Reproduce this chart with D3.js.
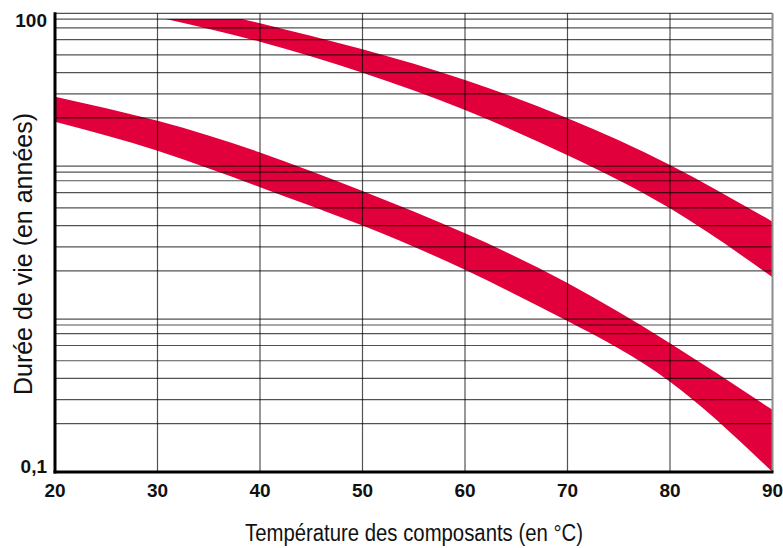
<!DOCTYPE html>
<html>
<head>
<meta charset="utf-8">
<script src="https://cdn.jsdelivr.net/npm/d3@7"></script>
<style>
  body { margin: 0; background: #fff; }
  svg { display: block; }
  .tick-label { font-family: "Liberation Sans", Arial, sans-serif; font-weight: bold; font-size: 19px; fill: #111; }
  .title { font-family: "Liberation Sans", Arial, sans-serif; fill: #111; }
</style>
</head>
<body>
<div id="chart"></div>
<script>
// temperatures (°C) on the x axis
var xTicks = [20, 30, 40, 50, 60, 70, 80, 90];

// lower band (years), read at each 10 °C
var lowerTemps  = [20, 30, 40, 50, 60, 70, 80, 90];
var lowerTop    = [28.5, 19.8, 12.3, 6.88, 3.64, 1.72, 0.695, 0.255];
var lowerBottom = [19.5, 12.6, 7.28, 4.09, 2.10, 0.97, 0.390, 0.1];

// upper band, starts around 31 °C and is cut flat near the top
var upperTemps  = [30.8, 40, 50, 60, 70, 80, 90];
var upperTop    = [121, 86.0, 58.1, 36.6, 20.6, 10.2, 4.34];
var upperBottom = [91.8, 65.2, 40.9, 23.3, 11.8, 5.30, 1.88];
var upperCap = 91.8;

// horizontal grid: decades plus the (uneven) lines drawn inside each decade
var decades = [0.1, 1, 10, 100];
var minorSteps = [2.07, 2.97, 4.09, 5.34, 6.72, 8.03, 9.15];

var yLabels = [{v: 100, t: "100"}, {v: 0.1, t: "0,1"}];

var W = 783, H = 548;

var x = d3.scaleLinear().domain([20, 90]).range([55, 772.5]);
var y = d3.scaleLog().domain([0.1, 100]).range([472, 13.3]);

var svg = d3.select("#chart").append("svg")
    .attr("width", W)
    .attr("height", H);

var defs = svg.append("defs");
defs.append("clipPath").attr("id", "plotClip")
  .append("rect")
    .attr("x", x(20)).attr("y", y(100))
    .attr("width", x(90) - x(20)).attr("height", y(0.1) - y(100));
defs.append("clipPath").attr("id", "capClip")
  .append("rect")
    .attr("x", x(20)).attr("y", y(upperCap))
    .attr("width", x(90) - x(20)).attr("height", y(0.1) - y(upperCap));

var red = "#e2003c";

function band(temps, top, bottom) {
    var pts = temps.map(function(t, i){ return {t: t, a: top[i], b: bottom[i]}; });
    return d3.area()
        .x(function(d){ return x(d.t); })
        .y0(function(d){ return y(d.b); })
        .y1(function(d){ return y(d.a); })
        .curve(d3.curveNatural)(pts);
}

svg.append("path")
    .attr("d", band(lowerTemps, lowerTop, lowerBottom))
    .attr("fill", red)
    .attr("clip-path", "url(#plotClip)");

svg.append("path")
    .attr("d", band(upperTemps, upperTop, upperBottom))
    .attr("fill", red)
    .attr("clip-path", "url(#capClip)");

// horizontal grid lines
var hLines = [];
decades.forEach(function(d){
    if (d > 0.1) hLines.push(d);
    if (d < 100) minorSteps.forEach(function(m){ hLines.push(d * m); });
});

svg.append("g").selectAll("line")
    .data(hLines)
    .enter().append("line")
    .attr("x1", x(20)).attr("x2", x(90))
    .attr("y1", function(d){ return y(d); })
    .attr("y2", function(d){ return y(d); })
    .attr("stroke", "#000")
    .attr("stroke-opacity", 0.68)
    .attr("stroke-width", 1.2);

// vertical grid lines
svg.append("g").selectAll("line")
    .data(xTicks.slice(1, -1))
    .enter().append("line")
    .attr("x1", function(d){ return x(d); })
    .attr("x2", function(d){ return x(d); })
    .attr("y1", y(100)).attr("y2", y(0.1))
    .attr("stroke", "#000")
    .attr("stroke-opacity", 0.68)
    .attr("stroke-width", 1.2);

// right edge
svg.append("line")
    .attr("x1", x(90)).attr("x2", x(90))
    .attr("y1", y(100)).attr("y2", y(0.1))
    .attr("stroke", "#8c8c8c")
    .attr("stroke-width", 2);

// axes
svg.append("line")
    .attr("x1", x(20)).attr("x2", x(20))
    .attr("y1", y(100) - 1).attr("y2", y(0.1) + 1.5)
    .attr("stroke", "#000").attr("stroke-width", 3);
svg.append("line")
    .attr("x1", x(20) - 1.5).attr("x2", x(90) + 1)
    .attr("y1", y(0.1)).attr("y2", y(0.1))
    .attr("stroke", "#000").attr("stroke-width", 3);

// tick labels
svg.append("g").selectAll("text")
    .data(xTicks)
    .enter().append("text")
    .attr("class", "tick-label")
    .attr("x", function(d){ return x(d); })
    .attr("y", 497)
    .attr("text-anchor", "middle")
    .text(function(d){ return d; });

svg.append("g").selectAll("text")
    .data(yLabels)
    .enter().append("text")
    .attr("class", "tick-label")
    .attr("x", 47)
    .attr("y", function(d){ return y(d.v) + (d.v === 100 ? 14 : 1); })
    .attr("text-anchor", "end")
    .text(function(d){ return d.t; });

// titles
svg.append("text")
    .attr("class", "title")
    .attr("x", 414).attr("y", 541)
    .attr("text-anchor", "middle")
    .attr("font-size", 23)
    .attr("textLength", 338)
    .attr("lengthAdjust", "spacingAndGlyphs")
    .text("Température des composants (en °C)");

svg.append("text")
    .attr("class", "title")
    .attr("transform", "translate(31.5,254) rotate(-90)")
    .attr("text-anchor", "middle")
    .attr("font-size", 25)
    .text("Durée de vie (en années)");
</script>
</body>
</html>
